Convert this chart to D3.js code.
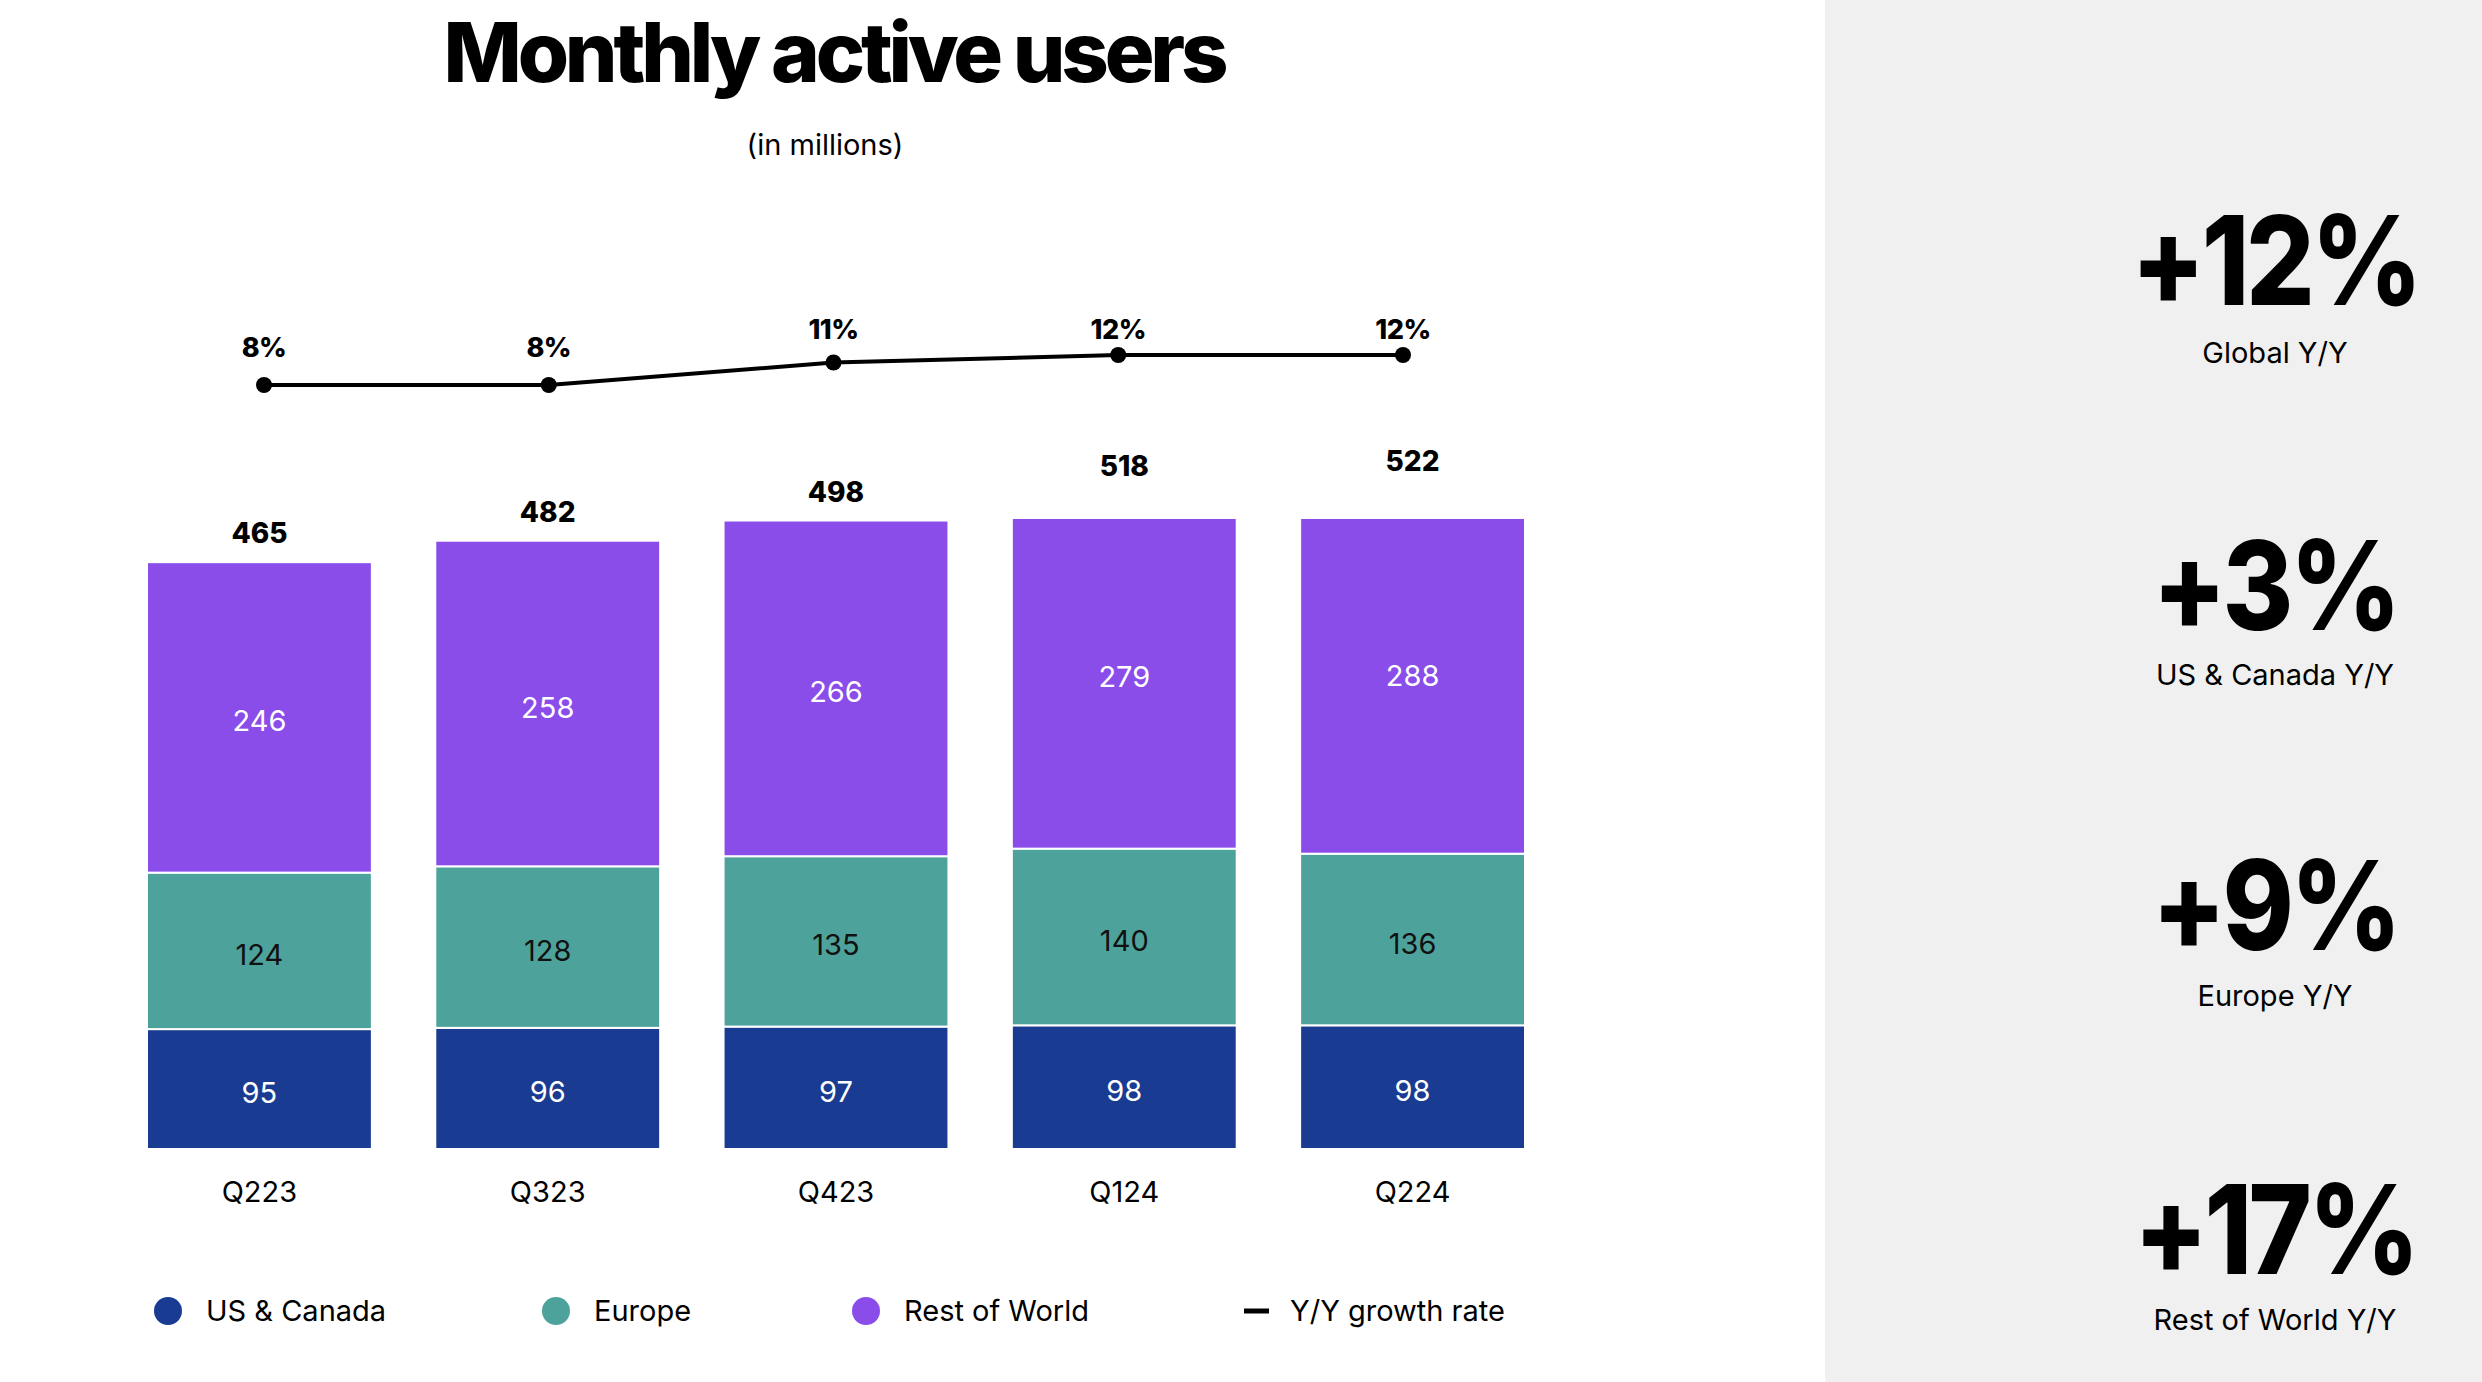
<!DOCTYPE html>
<html><head><meta charset="utf-8">
<script src="https://cdn.jsdelivr.net/npm/d3@7"></script>
<style>
html,body{margin:0;padding:0;background:#fff;}
svg{display:block;font-family:Inter,"Noto Sans",sans-serif;}
</style></head>
<body>
<svg id="chart" width="2482" height="1382"></svg>
<script>
const quarters = ["Q223","Q323","Q423","Q124","Q224"];
const usCanada = [95,96,97,98,98];
const europe = [124,128,135,140,136];
const restOfWorld = [246,258,266,279,288];
const totals = [465,482,498,518,522];
const growth = [8,8,11,12,12];
const seriesNames = ["US & Canada","Europe","Rest of World"];
const colors = ["#193B91","#4DA39B","#8A4DEA"];
const labelColors = ["#ffffff","#111111","#ffffff"];
const kpiValues = ["+12%","+3%","+9%","+17%"];
const kpiLabels = ["Global Y/Y","US & Canada Y/Y","Europe Y/Y","Rest of World Y/Y"];

const svg = d3.select("#chart");
svg.append("rect").attr("x",0).attr("y",0).attr("width",2482).attr("height",1382).attr("fill","#fff");
svg.append("rect").attr("x",1825).attr("y",0).attr("width",657).attr("height",1382).attr("fill","#F0F0F0");

// Title
svg.append("text").attr("x",834).attr("y",82).attr("text-anchor","middle")
  .attr("font-size",83).attr("font-weight",800).attr("letter-spacing",-4.2).attr("fill","#000")
  .text("Monthly active users");
svg.append("text").attr("x",825).attr("y",155).attr("text-anchor","middle")
  .attr("font-size",29).attr("fill","#000").text("(in millions)");

// Scales
const x = d3.scaleBand().domain(quarters).range([147,1525]).paddingInner(0.22).paddingOuter(0);
const y = d3.scaleLinear().domain([0,500]).range([1149,518]);
const yClamp = y.copy().clamp(true);
const xp = d3.scalePoint().domain(quarters).range([264,1403]);
const yg = d3.scaleLinear().domain([8,12]).range([385,355]);

const rows = quarters.map((q,i)=>({q, "US & Canada":usCanada[i], "Europe":europe[i], "Rest of World":restOfWorld[i]}));
const stacked = d3.stack().keys(seriesNames)(rows);

const gBars = svg.append("g");
stacked.forEach((layer,li)=>{
  const g = gBars.append("g");
  g.selectAll("rect").data(layer).join("rect")
    .attr("x",d=>x(d.data.q))
    .attr("width",x.bandwidth())
    .attr("y",d=>yClamp(d[1]))
    .attr("height",d=>yClamp(d[0])-yClamp(d[1]))
    .attr("fill",colors[li])
    .attr("stroke","#fff").attr("stroke-width",2);
  g.selectAll("text").data(layer).join("text")
    .attr("x",d=>x(d.data.q)+x.bandwidth()/2)
    .attr("y",d=>(y(d[0])+y(d[1]))/2+14)
    .attr("text-anchor","middle").attr("font-size",29)
    .attr("fill",labelColors[li])
    .text(d=>d[1]-d[0]);
});

// Totals
svg.append("g").selectAll("text").data(quarters).join("text")
  .attr("x",q=>x(q)+x.bandwidth()/2)
  .attr("y",(q,i)=>y(totals[i])-19)
  .attr("text-anchor","middle").attr("font-size",28).attr("font-weight",800)
  .text((q,i)=>totals[i]);

// X axis labels
const xAxis = d3.axisBottom(x).tickSize(0).tickPadding(0);
const gx = svg.append("g").attr("transform","translate(0,1180)").call(xAxis);
gx.select(".domain").remove();
gx.selectAll("text").attr("font-size",29).attr("fill","#000").attr("font-family","Inter,sans-serif").attr("dy","0.75em");

// Growth line
const line = d3.line().x((d,i)=>xp(quarters[i])).y(d=>yg(d));
svg.append("path").datum(growth).attr("d",line).attr("fill","none").attr("stroke","#000").attr("stroke-width",4);
svg.append("g").selectAll("circle").data(growth).join("circle")
  .attr("cx",(d,i)=>xp(quarters[i])).attr("cy",d=>yg(d)).attr("r",8).attr("fill","#000");
svg.append("g").selectAll("text").data(growth).join("text")
  .attr("x",(d,i)=>xp(quarters[i])).attr("y",d=>Math.max(yg(d)-28, 339))
  .attr("text-anchor","middle").attr("font-size",27).attr("font-weight",800).attr("letter-spacing",-0.5)
  .text(d=>d+"%");

// Legend
const legX = [168,556,866];
const gl = svg.append("g");
seriesNames.forEach((n,i)=>{
  gl.append("circle").attr("cx",legX[i]).attr("cy",1311).attr("r",14).attr("fill",colors[i]);
  gl.append("text").attr("x",legX[i]+38).attr("y",1321).attr("font-size",29).text(n);
});
gl.append("line").attr("x1",1244).attr("x2",1269).attr("y1",1311).attr("y2",1311).attr("stroke","#000").attr("stroke-width",5);
gl.append("text").attr("x",1290).attr("y",1321).attr("font-size",29).text("Y/Y growth rate");

// KPI panel
const kpiBase = [305,630,950,1274];
const kpiLabBase = [363,685,1006,1330];
const gk = svg.append("g");
kpiValues.forEach((v,i)=>{
  gk.append("text").attr("transform",`translate(2275,${kpiBase[i]}) scale(0.87,1)`)
    .attr("text-anchor","middle")
    .attr("font-size",124).attr("font-weight",800).attr("letter-spacing",-4).text(v);
  gk.append("text").attr("x",2275).attr("y",kpiLabBase[i]).attr("text-anchor","middle")
    .attr("font-size",29).text(kpiLabels[i]);
});
</script>
</body></html>
